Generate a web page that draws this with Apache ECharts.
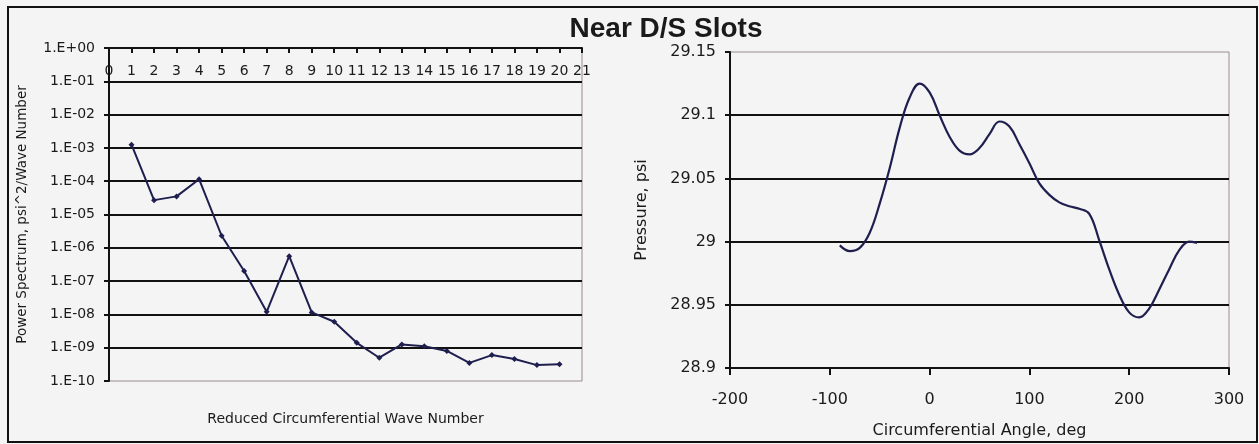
<!DOCTYPE html>
<html>
<head>
<meta charset="utf-8">
<script src="https://cdn.jsdelivr.net/npm/echarts@6/dist/echarts.min.js"></script>
<style>
html,body{margin:0;padding:0;background:#f4f4f4;}
#chart{width:1259px;height:444px;}
</style>
</head>
<body>
<div id="chart"></div>
<script>
// ---- Data ----
const titleText = 'Near D/S Slots';
const waveNumbers = [1,2,3,4,5,6,7,8,9,10,11,12,13,14,15,16,17,18,19,20];
const powerSpectrum = [1.25e-3, 2.7e-5, 3.5e-5, 1.15e-4, 2.3e-6, 2.0e-7, 1.2e-8, 5.6e-7, 1.15e-8, 6e-9,
                       1.4e-9, 5e-10, 1.25e-9, 1.1e-9, 8e-10, 3.5e-10, 6e-10, 4.6e-10, 3e-10, 3.2e-10];
const angles =   [-90, -80, -70, -60, -50, -40, -30, -20, -10, 0, 10, 20, 30, 40, 50, 60, 70, 80, 90, 100,
                  110, 120, 130, 140, 150, 160, 170, 180, 190, 200, 210, 220, 230, 240, 250, 260, 268];
const pressure = [28.997, 28.9925, 28.995, 29.007, 29.030, 29.058, 29.090, 29.114, 29.125, 29.118,
                  29.100, 29.083, 29.072, 29.069, 29.074, 29.085, 29.095, 29.091, 29.077, 29.062,
                  29.046, 29.037, 29.031, 29.028, 29.026, 29.022, 29.001, 28.978, 28.958, 28.944,
                  28.940, 28.947, 28.962, 28.978, 28.993, 29.000, 28.999];

const leftYName = 'Power Spectrum, psi^2/Wave Number';
const leftXName = 'Reduced Circumferential Wave Number';
const rightYName = 'Pressure, psi';
const rightXName = 'Circumferential Angle, deg';

// ---- Styles ----
const FONT = 'DejaVu Sans';
const TXT = '#1a1a1a';
const LINE = '#1f1f4f';
const GRIDC = '#111111';

function sciLabel(v){
  const e = Math.round(Math.log10(v));
  const a = Math.abs(e);
  return '1.E' + (e >= 0 ? '+' : '-') + (a < 10 ? '0' + a : '' + a);
}

const chart = echarts.init(document.getElementById('chart'), null, {renderer:'canvas'});
chart.setOption({
  backgroundColor: '#f4f4f4',
  animation: false,
  title: {
    text: titleText,
    left: 661, top: 10, textAlign: 'center',
    textStyle: {fontFamily: 'Liberation Sans', fontWeight: 'bold', fontSize: 28, color: TXT}
  },
  graphic: [{
    type: 'rect', silent: true,
    shape: {x: 8, y: 7, width: 1249, height: 435},
    style: {fill: 'none', stroke: '#111', lineWidth: 2}
  }],
  grid: [
    {left: 109, top: 48, right: 677, bottom: 63, show: true, borderColor: '#9a8a90', borderWidth: 1, backgroundColor: 'transparent'},
    {left: 730, top: 52, right: 30, bottom: 70, show: true, borderColor: '#9a8a90', borderWidth: 1, backgroundColor: 'transparent'}
  ],
  xAxis: [
    {
      type: 'value', gridIndex: 0, position: 'top', min: 0, max: 21, interval: 1,
      axisLine: {show: true, onZero: false, lineStyle: {color: GRIDC, width: 2}},
      axisTick: {show: true, inside: true, length: 5, lineStyle: {color: GRIDC, width: 2}},
      axisLabel: {inside: true, margin: 16, fontFamily: FONT, fontSize: 14, color: TXT, hideOverlap: false},
      splitLine: {show: false}
    },
    {
      type: 'value', gridIndex: 0, position: 'bottom', min: 0, max: 21,
      axisLine: {show: false}, axisTick: {show: false}, axisLabel: {show: false}, splitLine: {show: false},
      name: leftXName, nameLocation: 'middle', nameGap: 31,
      nameTextStyle: {fontFamily: FONT, fontSize: 14, color: TXT}
    },
    {
      type: 'value', gridIndex: 1, min: -200, max: 300, interval: 100,
      axisLine: {show: true, onZero: false, lineStyle: {color: GRIDC, width: 2}},
      axisTick: {show: true, inside: false, length: 7, lineStyle: {color: GRIDC, width: 2}},
      axisLabel: {margin: 24, fontFamily: FONT, fontSize: 16, color: TXT},
      splitLine: {show: false},
      name: rightXName, nameLocation: 'middle', nameGap: 55,
      nameTextStyle: {fontFamily: FONT, fontSize: 16, color: TXT}
    }
  ],
  yAxis: [
    {
      type: 'log', gridIndex: 0, logBase: 10, min: 1e-10, max: 1, interval: 1, splitNumber: 10,
      axisLine: {show: true, onZero: false, lineStyle: {color: GRIDC, width: 2}},
      axisTick: {show: true, inside: false, length: 5, lineStyle: {color: GRIDC, width: 2}},
      axisLabel: {margin: 14, fontFamily: FONT, fontSize: 14, color: TXT, formatter: sciLabel},
      splitLine: {show: true, showMinLine: false, showMaxLine: false, lineStyle: {color: GRIDC, width: 2}},
      name: leftYName, nameLocation: 'middle', nameGap: 80, nameRotate: 90,
      nameTextStyle: {fontFamily: FONT, fontSize: 13.5, color: TXT}
    },
    {
      type: 'value', gridIndex: 1, min: 28.9, max: 29.15, interval: 0.05,
      axisLine: {show: true, onZero: false, lineStyle: {color: GRIDC, width: 2}},
      axisTick: {show: true, inside: false, length: 5, lineStyle: {color: GRIDC, width: 2}},
      axisLabel: {margin: 14, fontFamily: FONT, fontSize: 16, color: TXT,
                  formatter: v => String(Math.round(v * 100) / 100)},
      splitLine: {show: true, showMinLine: false, showMaxLine: false, lineStyle: {color: GRIDC, width: 2}},
      name: rightYName, nameLocation: 'middle', nameGap: 80, nameRotate: 90,
      nameTextStyle: {fontFamily: FONT, fontSize: 16, color: TXT}
    }
  ],
  series: [
    {
      type: 'line', xAxisIndex: 0, yAxisIndex: 0,
      data: waveNumbers.map((w, i) => [w, powerSpectrum[i]]),
      symbol: 'diamond', symbolSize: 6, showSymbol: true,
      lineStyle: {color: LINE, width: 2},
      itemStyle: {color: LINE}
    },
    {
      type: 'line', xAxisIndex: 2, yAxisIndex: 1,
      data: angles.map((a, i) => [a, pressure[i]]),
      smooth: 0.4, showSymbol: false,
      lineStyle: {color: LINE, width: 2.2}
    }
  ]
});
</script>
</body>
</html>
